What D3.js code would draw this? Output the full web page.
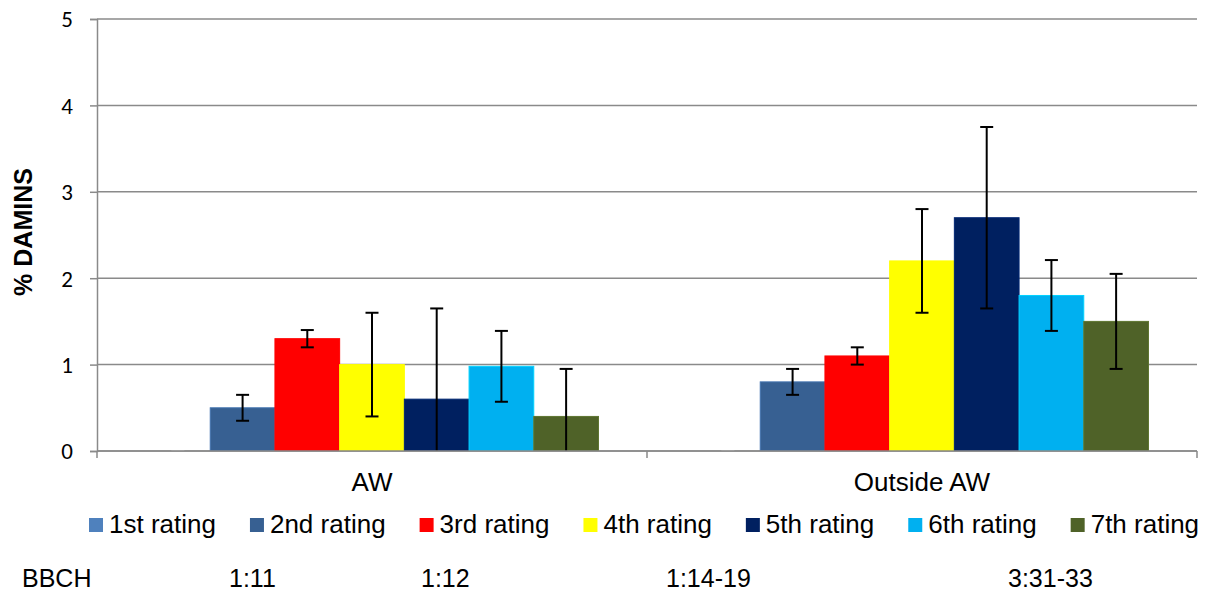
<!DOCTYPE html>
<html>
<head>
<meta charset="utf-8">
<script src="https://cdn.jsdelivr.net/npm/d3@7"></script>
<style>
  html, body { margin: 0; padding: 0; background: #fff; }
  svg { display: block; }
</style>
</head>
<body>
<svg id="chart" width="1210" height="593"></svg>
<script>
// ---- data ----
const categories = ["AW", "Outside AW"];
const seriesNames = ["1st rating", "2nd rating", "3rd rating", "4th rating", "5th rating", "6th rating", "7th rating"];
const seriesColors = ["#4F81BD", "#376092", "#FF0000", "#FFFF00", "#002060", "#00B0F0", "#4F6228"];
const awValues = [0, 0.5, 1.3, 1.0, 0.6, 0.98, 0.4];
const outsideValues = [0, 0.8, 1.1, 2.2, 2.7, 1.8, 1.5];
const awErrors = [0, 0.15, 0.1, 0.6, 1.05, 0.41, 0.55];
const outsideErrors = [0, 0.15, 0.1, 0.6, 1.05, 0.41, 0.55];
const yTicks = [0, 1, 2, 3, 4, 5];
const yTitle = "% DAMINS";
const bbchTitle = "BBCH";
const bbchLabels = ["1:11", "1:12", "1:14-19", "3:31-33"];

// ---- layout ----
const svg = d3.select("#chart");
const plot = { left: 97, right: 1197, top: 19, bottom: 451 };
const bbchX = [229, 421, 666, 1008];
const sansFont = "'Liberation Sans', Arial, Helvetica, sans-serif";
const tickFont = "Carlito, Calibri, Lato, 'Open Sans', sans-serif";
const gridColor = "#8a8a8a";

const valuesByCat = [awValues, outsideValues];
const errorsByCat = [awErrors, outsideErrors];
const rows = [];
categories.forEach((c, ci) => {
  seriesNames.forEach((s, si) => {
    rows.push({ cat: c, series: s, si, value: valuesByCat[ci][si], err: errorsByCat[ci][si] });
  });
});

const x0 = d3.scaleBand().domain(categories).range([plot.left, plot.right]).paddingInner(0).paddingOuter(0);
const x1 = d3.scaleBand().domain(seriesNames).range([0, x0.bandwidth()]).paddingInner(0).paddingOuter(0.75);
const y = d3.scaleLinear().domain([0, 5]).range([plot.bottom, plot.top]);

// gridlines
svg.append("g")
  .selectAll("line")
  .data(yTicks)
  .join("line")
  .attr("x1", plot.left).attr("x2", plot.right)
  .attr("y1", d => y(d)).attr("y2", d => y(d))
  .attr("stroke", gridColor).attr("stroke-width", 1.5);

// y axis
const yAxis = svg.append("g")
  .attr("transform", `translate(${plot.left},0)`)
  .call(d3.axisLeft(y).tickValues(yTicks).tickSize(7).tickPadding(17).tickFormat(d3.format("d")));
yAxis.select(".domain").attr("stroke", gridColor).attr("stroke-width", 1.5);
yAxis.selectAll(".tick line").attr("stroke", gridColor).attr("stroke-width", 1.5);
yAxis.selectAll(".tick text")
  .attr("font-family", tickFont).attr("font-size", 23).attr("fill", "#000")
  .attr("dy", "0.34em");

// clip for bars/error bars
svg.append("defs").append("clipPath").attr("id", "plotclip")
  .append("rect")
  .attr("x", plot.left).attr("y", plot.top - 5)
  .attr("width", plot.right - plot.left).attr("height", plot.bottom - plot.top + 5);

const marks = svg.append("g").attr("clip-path", "url(#plotclip)");

// bars
marks.selectAll("rect.bar")
  .data(rows.filter(d => d.value > 0))
  .join("rect")
  .attr("class", "bar")
  .attr("x", d => x0(d.cat) + x1(d.series))
  .attr("width", x1.bandwidth())
  .attr("y", d => y(d.value))
  .attr("height", d => y(0) - y(d.value))
  .attr("fill", d => seriesColors[d.si])
  .attr("stroke", d => d3.color(seriesColors[d.si]).brighter(0.5).formatHex())
  .attr("stroke-width", 1);

// error bars
const capW = 12;
const eb = marks.selectAll("g.err")
  .data(rows)
  .join("g")
  .attr("class", "err")
  .attr("transform", d => `translate(${x0(d.cat) + x1(d.series) + x1.bandwidth() / 2},0)`);
eb.filter(d => d.err > 0).append("line")
  .attr("x1", 0).attr("x2", 0)
  .attr("y1", d => y(d.value + d.err)).attr("y2", d => y(d.value - d.err))
  .attr("stroke", "#000").attr("stroke-width", 2);
eb.append("line")
  .attr("x1", -capW / 2 - 0.5).attr("x2", capW / 2 + 0.5)
  .attr("y1", d => y(d.value + d.err)).attr("y2", d => y(d.value + d.err))
  .attr("stroke", d => d.err > 0 ? "#000" : "#d8d8d8").attr("stroke-width", 2);
eb.filter(d => d.err > 0).append("line")
  .attr("x1", -capW / 2 - 0.5).attr("x2", capW / 2 + 0.5)
  .attr("y1", d => y(d.value - d.err)).attr("y2", d => y(d.value - d.err))
  .attr("stroke", "#000").attr("stroke-width", 2);

// x axis
const xAxis = svg.append("g")
  .attr("transform", `translate(0,${plot.bottom})`)
  .call(d3.axisBottom(x0).tickSize(0).tickPadding(22));
xAxis.select(".domain").remove();
svg.append("line")
  .attr("x1", plot.left).attr("x2", plot.right)
  .attr("y1", plot.bottom).attr("y2", plot.bottom)
  .attr("stroke", gridColor).attr("stroke-width", 1.5);
svg.append("g").selectAll("line")
  .data(categories.map(c => x0(c)).concat([plot.right]))
  .join("line")
  .attr("x1", d => d).attr("x2", d => d)
  .attr("y1", plot.bottom).attr("y2", plot.bottom + 7)
  .attr("stroke", gridColor).attr("stroke-width", 1.5);
xAxis.selectAll(".tick text")
  .attr("font-family", sansFont).attr("font-size", 26).attr("fill", "#000")
  .attr("dy", "0.71em");

// y title
svg.append("text")
  .attr("transform", `translate(32,232) rotate(-90)`)
  .attr("text-anchor", "middle")
  .attr("font-family", sansFont).attr("font-weight", "bold").attr("font-size", 25)
  .text(yTitle);

// legend
const legend = svg.append("g").attr("font-family", sansFont).attr("font-size", 26);
let lx = 89;
seriesNames.forEach((s, i) => {
  const g = legend.append("g").attr("transform", `translate(${lx},0)`);
  g.append("rect").attr("x", 0).attr("y", 518).attr("width", 14).attr("height", 14)
    .attr("fill", seriesColors[i]);
  const t = g.append("text").attr("x", 20).attr("y", 533).attr("fill", "#000").text(s);
  const w = t.node().getComputedTextLength();
  lx += 20 + w + 34;
});

// BBCH row
const bb = svg.append("g").attr("font-family", sansFont).attr("font-size", 25).attr("fill", "#000");
bb.append("text").attr("x", 22).attr("y", 587).text(bbchTitle);
bb.selectAll("text.bbch")
  .data(bbchLabels)
  .join("text")
  .attr("class", "bbch")
  .attr("x", (d, i) => bbchX[i]).attr("y", 587)
  .text(d => d);
</script>
</body>
</html>
